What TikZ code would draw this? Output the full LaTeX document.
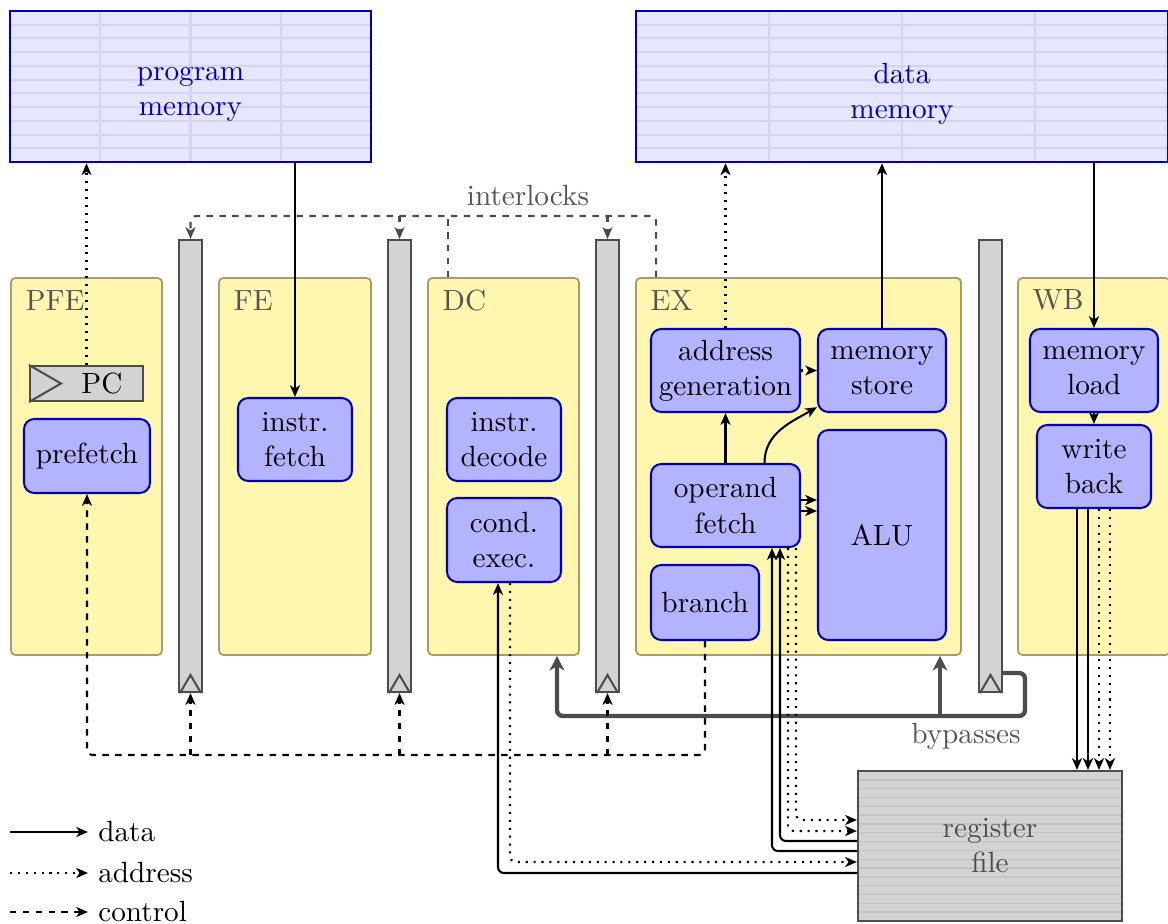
\documentclass[tikz,border=0pt]{standalone}
\usepackage{tikz}
\usetikzlibrary{arrows.meta,calc}

% one unit of the drawing grid
\newcommand\pxu{0.342pt}

\definecolor{stagefill}{RGB}{255,246,176}
\definecolor{stageline}{RGB}{165,158,104}
\definecolor{unitfill}{RGB}{179,179,255}
\definecolor{unitline}{RGB}{0,0,180}
\definecolor{memfill}{RGB}{230,230,255}
\definecolor{memline}{RGB}{212,212,250}
\definecolor{reggray}{RGB}{211,211,211}
\definecolor{regline}{RGB}{77,77,77}
\definecolor{regstripe}{RGB}{196,196,196}
\definecolor{labelgray}{RGB}{85,85,85}

\begin{document}
\begin{tikzpicture}[x=\pxu, y=-\pxu,
  >={Stealth[length=4pt,width=3.4pt,inset=1.1pt]},
  wh/.style 2 args={minimum width=#1*\pxu, minimum height=#2*\pxu},
  stage/.style={draw=stageline, fill=stagefill, rounded corners=1.5pt, line width=0.6pt},
  stagename/.style={anchor=west, inner sep=0pt, text=labelgray},
  unit/.style={draw=unitline, fill=unitfill, rounded corners=3.5pt, line width=0.7pt, align=center, inner sep=1pt},
  pipereg/.style={draw=regline, fill=reggray, line width=0.7pt},
  memgrid/.style={draw=memline, line width=0.7pt},
  memory/.style={draw=unitline, fill=memfill, line width=0.9pt,
    path picture={
      \foreach \k in {1,...,10}
        \draw[memgrid] ($(path picture bounding box.north west)!\k/11!(path picture bounding box.south west)$) -- ++(700,0);
      \foreach \k in {1,2,3}
        \draw[memgrid] ($(path picture bounding box.north west)!\k/4!(path picture bounding box.north east)$) -- ++(0,200);
    }},
  memtext/.style={text=unitline, align=center},
  regfile/.style={draw=regline, fill=reggray, line width=0.7pt, text=regline, align=center,
    path picture={
      \foreach \k in {1,...,16}
        \draw[regstripe, line width=0.5pt] ($(path picture bounding box.north west)!\k/17!(path picture bounding box.south west)$) -- ++(300,0);
    }},
  data/.style={->, line width=0.7pt},
  addr/.style={->, line width=0.7pt, dash pattern=on 0.7pt off 2pt},
  ctrl/.style={->, line width=0.7pt, dash pattern=on 2.2pt off 2.2pt},
  lock/.style={ctrl, draw=black!70},
  bypass/.style={-{Stealth[length=5pt,width=5pt,inset=1.5pt]}, line width=1.5pt, draw=black!70, rounded corners=2pt},
  note/.style={text=labelgray, inner sep=0pt}]

\useasboundingbox (0,0) rectangle (1168,924);

% pipeline stages
\node[stage, wh={151}{377}] (pfe) at (86.5,466.5) {};
\node[stage, wh={152}{377}] (fe) at (295,466.5) {};
\node[stage, wh={151}{377}] (dc) at (503.5,466.5) {};
\node[stage, wh={325}{377}] (ex) at (798.5,466.5) {};
\node[stage, wh={152}{377}] (wb) at (1094,466.5) {};
\node[stagename] (pfe-name) at ([shift={(15,23)}]pfe.north west) {PFE};
\node[stagename] (fe-name) at ([shift={(15,23)}]fe.north west) {FE};
\node[stagename] (dc-name) at ([shift={(15,23)}]dc.north west) {DC};
\node[stagename] (ex-name) at ([shift={(15,23)}]ex.north west) {EX};
\node[stagename] (wb-name) at ([shift={(15,23)}]wb.north west) {WB};

% memories
\node[memory, wh={361}{151}] (pmem) at (190.5,86.5) {};
\node[memory, wh={532}{151}] (dmem) at (902,86.5) {};
\node[memtext] (pmem-name) at (190.5,94) {program\\memory};
\node[memtext] (dmem-name) at (902,94) {data\\memory};

% pipeline registers
\node[pipereg, wh={23}{452}] (r1) at (190.5,466) {};
\node[pipereg, wh={23}{452}] (r2) at (399.5,466) {};
\node[pipereg, wh={23}{452}] (r3) at (607.5,466) {};
\node[pipereg, wh={23}{452}] (r4) at (990.5,466) {};
\foreach \r in {r1,r2,r3,r4}
  \draw[draw=regline, line width=0.7pt] ([xshift=2*\pxu]\r.south west) -- ([yshift=18*\pxu]\r.south) -- ([xshift=-2*\pxu]\r.south east);

% program counter
\node[pipereg, wh={113}{35}] (pc) at (86.5,383.5) {};
\draw[draw=regline, line width=0.7pt] (pc.north west) -- ([xshift=32*\pxu]pc.west) -- (pc.south west);
\node (pc-name) at (102,384) {PC};

% functional units
\node[unit, wh={126}{74}] (prefetch) at (87,456) {prefetch};
\node[unit, wh={114}{83}] (ifetch) at (295,439.5) {instr.\\fetch};
\node[unit, wh={114}{83}] (idecode) at (504,439.5) {instr.\\decode};
\node[unit, wh={114}{84}] (cexec) at (504,540) {cond.\\exec.};
\node[unit, wh={149}{83}] (agen) at (725.5,370.5) {address\\generation};
\node[unit, wh={128}{83}] (mstore) at (882,370.5) {memory\\store};
\node[unit, wh={149}{83}] (ofetch) at (725.5,505.5) {operand\\fetch};
\node[unit, wh={128}{210}] (alu) at (882,535) {ALU};
\node[unit, wh={108}{75}] (branch) at (705,602.5) {branch};
\node[unit, wh={128}{83}] (mload) at (1094,370.5) {memory\\load};
\node[unit, wh={114}{83}] (wback) at (1094,466.5) {write\\back};

% register file
\node[regfile, wh={264}{150}] (rfile) at (990,846) {register\\file};

% memory accesses
\draw[addr] (pc.north) -- (pc.north |- pmem.south);
\draw[data] (ifetch.north |- pmem.south) -- (ifetch.north);
\draw[addr] (agen.north) -- (agen.north |- dmem.south);
\draw[data] (mstore.north) -- (mstore.north |- dmem.south);
\draw[data] (mload.north |- dmem.south) -- (mload.north);

% inside EX and WB
\draw[addr] (agen) -- (mstore);
\draw[data] (ofetch) -- (agen);
\draw[data] ([xshift=39*\pxu]ofetch.north) to[out=90, in=210] ([yshift=2pt]mstore.south west);
\coordinate (ofa) at ([yshift=5.5*\pxu]ofetch.east);
\coordinate (ofb) at ([yshift=-5.5*\pxu]ofetch.east);
\draw[data] (ofa) -- (ofa -| alu.west);
\draw[data] (ofb) -- (ofb -| alu.west);
\draw[data] (mload) -- (wback);

% bypasses
\coordinate (bpr) at (1025,716);
\coordinate (bpl) at (557,716);
\coordinate (bpx) at (940,716);
\draw[bypass] ([yshift=20*\pxu]r4.south east) -| (bpr) -- (bpl) -- (bpl |- dc.south);
\draw[bypass] (bpx) -- (bpx |- ex.south);
\node[note] (bypasses) at (966,736) {bypasses};

% register file ports
\draw[data, rounded corners=2pt] ([yshift=-5*\pxu]rfile.west) -| ([xshift=46.5*\pxu]ofetch.south);
\draw[data, rounded corners=2pt] ([yshift=5*\pxu]rfile.west) -| ([xshift=54.5*\pxu]ofetch.south);
\draw[addr, rounded corners=2pt] ([xshift=62.5*\pxu]ofetch.south) |- ([yshift=15*\pxu]rfile.west);
\draw[addr, rounded corners=2pt] ([xshift=70.5*\pxu]ofetch.south) |- ([yshift=26*\pxu]rfile.west);
\draw[data, rounded corners=2pt] ([yshift=-27*\pxu]rfile.west) -| ([xshift=-6*\pxu]cexec.south);
\draw[addr, rounded corners=2pt] ([xshift=6*\pxu]cexec.south) |- ([yshift=-16*\pxu]rfile.west);
\foreach \dx/\st in {-17/data,-6/data,5/addr,16/addr} {
  \coordinate (wbk) at ([xshift=\dx*\pxu]wback.south);
  \draw[\st] (wbk) -- (wbk |- rfile.north);
}

% control
\coordinate (bus) at (0,755);
\draw[ctrl, rounded corners=2pt] (branch.south) |- (prefetch.south |- bus) -- (prefetch.south);
\foreach \r in {r1,r2,r3}
  \draw[ctrl] (\r.south |- bus) -- (\r.south);

% interlocks
\coordinate (lockbus) at (0,216);
\coordinate (dclk) at ([xshift=21*\pxu]dc.north west);
\draw[lock, rounded corners=2pt] ([xshift=21*\pxu]ex.north west) |- (r1.north |- lockbus) -- (r1.north);
\draw[lock, -] (dclk) -- (dclk |- lockbus);
\foreach \r in {r2,r3}
  \draw[lock] (\r.north |- lockbus) -- (\r.north);
\node[note] (interlocks) at (528,196) {interlocks};

% legend
\node[anchor=west] (lg-data) at (88,832) {data};
\node[anchor=west] (lg-addr) at (88,873) {address};
\node[anchor=west] (lg-ctrl) at (88,912) {control};
\coordinate (lg1) at (10,832);
\coordinate (lg2) at (10,873);
\coordinate (lg3) at (10,912);
\draw[data] (lg1) -- (lg-data.west);
\draw[addr] (lg2) -- (lg-addr.west);
\draw[ctrl] (lg3) -- (lg-ctrl.west);
\end{tikzpicture}
\end{document}
